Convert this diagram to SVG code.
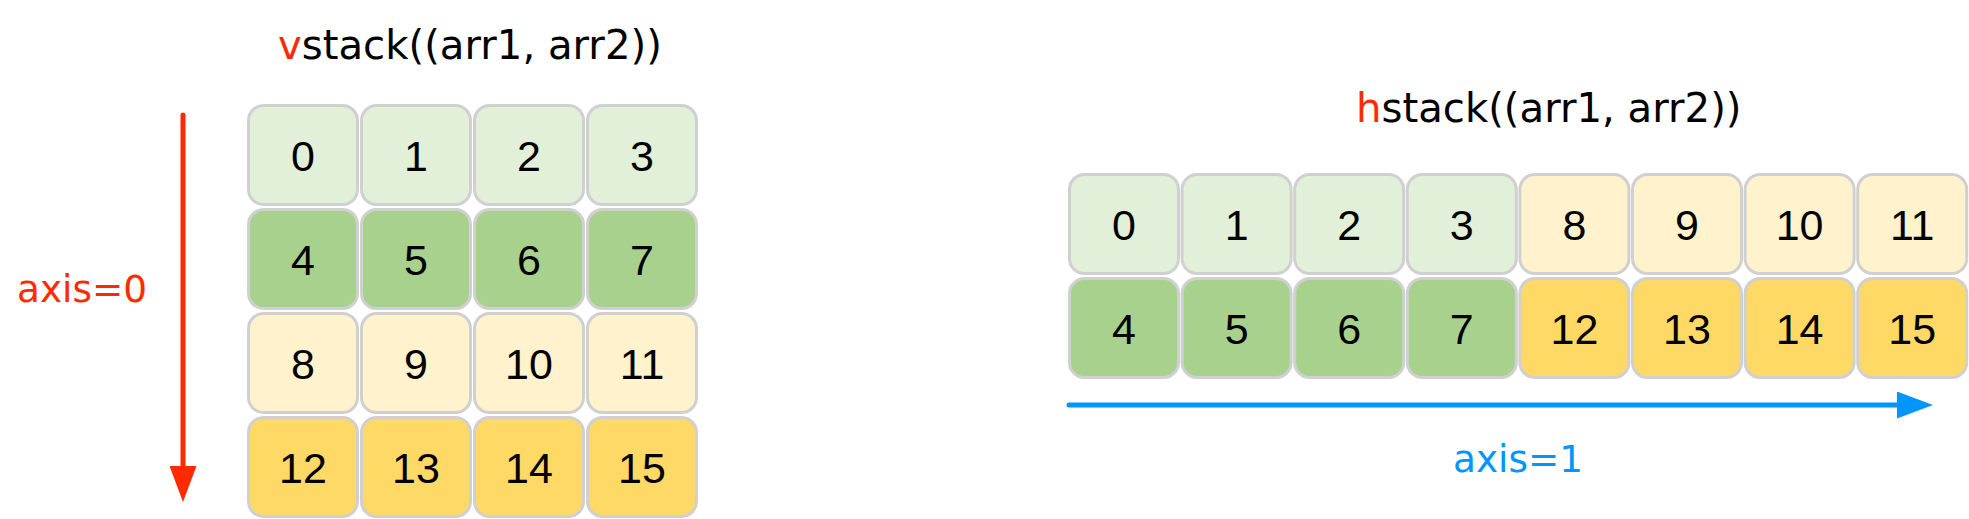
<svg xmlns="http://www.w3.org/2000/svg" width="1969" height="519" viewBox="0 0 1969 519">
<style>
.c{stroke:#d0d0d0;stroke-width:3}
.lg{fill:#e2f0d9}.dg{fill:#a9d18e}.ly{fill:#fff2cc}.dy{fill:#ffd966}
.n{font-family:"Liberation Sans",Arial,sans-serif;font-size:43px;fill:#000;text-anchor:middle}
.t{font-family:"DejaVu Sans",Verdana,sans-serif;font-size:40.2px;fill:#000}
.ax{font-family:"DejaVu Sans",Verdana,sans-serif;font-size:37.4px}
</style>
<defs>
<marker id="hr" viewBox="0 0 36 27" refX="0" refY="13.5" markerWidth="36" markerHeight="27" markerUnits="userSpaceOnUse" orient="auto"><path d="M0,0 L36,13.5 L0,27 Z" fill="#ff2a00"/></marker>
<marker id="hb" viewBox="0 0 36 27" refX="0" refY="13.5" markerWidth="36" markerHeight="27" markerUnits="userSpaceOnUse" orient="auto"><path d="M0,0 L36,13.5 L0,27 Z" fill="#0096ff"/></marker>
</defs>
<rect width="1969" height="519" fill="#fff"/>
<text class="t" x="278" y="59"><tspan fill="#ff2a00">v</tspan>stack((arr1, arr2))</text>
<text class="t" x="1356" y="122"><tspan fill="#ff2a00">h</tspan>stack((arr1, arr2))</text>
<text class="ax" x="17" y="302" fill="#ff2a00">axis=0</text>
<text class="ax" x="1453" y="472" fill="#0096ff">axis=1</text>
<g id="connectors">
<line x1="183" y1="115" x2="183" y2="466" stroke="#ff2a00" stroke-width="5" stroke-linecap="round" marker-end="url(#hr)"/>
<line x1="1069" y1="405" x2="1897" y2="405" stroke="#0096ff" stroke-width="5" stroke-linecap="round" marker-end="url(#hb)"/>
</g>
<g id="v0"><rect class="c lg" x="248.5" y="105.5" width="109" height="99" rx="15"/><text class="n" x="303" y="170.5">0</text></g>
<g id="v1"><rect class="c lg" x="361.5" y="105.5" width="109" height="99" rx="15"/><text class="n" x="416" y="170.5">1</text></g>
<g id="v2"><rect class="c lg" x="474.5" y="105.5" width="109" height="99" rx="15"/><text class="n" x="529" y="170.5">2</text></g>
<g id="v3"><rect class="c lg" x="587.5" y="105.5" width="109" height="99" rx="15"/><text class="n" x="642" y="170.5">3</text></g>
<g id="v4"><rect class="c dg" x="248.5" y="209.5" width="109" height="99" rx="15"/><text class="n" x="303" y="274.5">4</text></g>
<g id="v5"><rect class="c dg" x="361.5" y="209.5" width="109" height="99" rx="15"/><text class="n" x="416" y="274.5">5</text></g>
<g id="v6"><rect class="c dg" x="474.5" y="209.5" width="109" height="99" rx="15"/><text class="n" x="529" y="274.5">6</text></g>
<g id="v7"><rect class="c dg" x="587.5" y="209.5" width="109" height="99" rx="15"/><text class="n" x="642" y="274.5">7</text></g>
<g id="v8"><rect class="c ly" x="248.5" y="313.5" width="109" height="99" rx="15"/><text class="n" x="303" y="378.5">8</text></g>
<g id="v9"><rect class="c ly" x="361.5" y="313.5" width="109" height="99" rx="15"/><text class="n" x="416" y="378.5">9</text></g>
<g id="v10"><rect class="c ly" x="474.5" y="313.5" width="109" height="99" rx="15"/><text class="n" x="529" y="378.5">10</text></g>
<g id="v11"><rect class="c ly" x="587.5" y="313.5" width="109" height="99" rx="15"/><text class="n" x="642" y="378.5">11</text></g>
<g id="v12"><rect class="c dy" x="248.5" y="417.5" width="109" height="99" rx="15"/><text class="n" x="303" y="482.5">12</text></g>
<g id="v13"><rect class="c dy" x="361.5" y="417.5" width="109" height="99" rx="15"/><text class="n" x="416" y="482.5">13</text></g>
<g id="v14"><rect class="c dy" x="474.5" y="417.5" width="109" height="99" rx="15"/><text class="n" x="529" y="482.5">14</text></g>
<g id="v15"><rect class="c dy" x="587.5" y="417.5" width="109" height="99" rx="15"/><text class="n" x="642" y="482.5">15</text></g>
<g id="h0"><rect class="c lg" x="1069.5" y="174.5" width="109" height="99" rx="15"/><text class="n" x="1124" y="239.5">0</text></g>
<g id="h1"><rect class="c lg" x="1182.1" y="174.5" width="109" height="99" rx="15"/><text class="n" x="1236.6" y="239.5">1</text></g>
<g id="h2"><rect class="c lg" x="1294.7" y="174.5" width="109" height="99" rx="15"/><text class="n" x="1349.2" y="239.5">2</text></g>
<g id="h3"><rect class="c lg" x="1407.3" y="174.5" width="109" height="99" rx="15"/><text class="n" x="1461.8" y="239.5">3</text></g>
<g id="h8"><rect class="c ly" x="1519.9" y="174.5" width="109" height="99" rx="15"/><text class="n" x="1574.4" y="239.5">8</text></g>
<g id="h9"><rect class="c ly" x="1632.5" y="174.5" width="109" height="99" rx="15"/><text class="n" x="1687" y="239.5">9</text></g>
<g id="h10"><rect class="c ly" x="1745.1" y="174.5" width="109" height="99" rx="15"/><text class="n" x="1799.6" y="239.5">10</text></g>
<g id="h11"><rect class="c ly" x="1857.7" y="174.5" width="109" height="99" rx="15"/><text class="n" x="1912.2" y="239.5">11</text></g>
<g id="h4"><rect class="c dg" x="1069.5" y="278.5" width="109" height="99" rx="15"/><text class="n" x="1124" y="343.5">4</text></g>
<g id="h5"><rect class="c dg" x="1182.1" y="278.5" width="109" height="99" rx="15"/><text class="n" x="1236.6" y="343.5">5</text></g>
<g id="h6"><rect class="c dg" x="1294.7" y="278.5" width="109" height="99" rx="15"/><text class="n" x="1349.2" y="343.5">6</text></g>
<g id="h7"><rect class="c dg" x="1407.3" y="278.5" width="109" height="99" rx="15"/><text class="n" x="1461.8" y="343.5">7</text></g>
<g id="h12"><rect class="c dy" x="1519.9" y="278.5" width="109" height="99" rx="15"/><text class="n" x="1574.4" y="343.5">12</text></g>
<g id="h13"><rect class="c dy" x="1632.5" y="278.5" width="109" height="99" rx="15"/><text class="n" x="1687" y="343.5">13</text></g>
<g id="h14"><rect class="c dy" x="1745.1" y="278.5" width="109" height="99" rx="15"/><text class="n" x="1799.6" y="343.5">14</text></g>
<g id="h15"><rect class="c dy" x="1857.7" y="278.5" width="109" height="99" rx="15"/><text class="n" x="1912.2" y="343.5">15</text></g>
</svg>
